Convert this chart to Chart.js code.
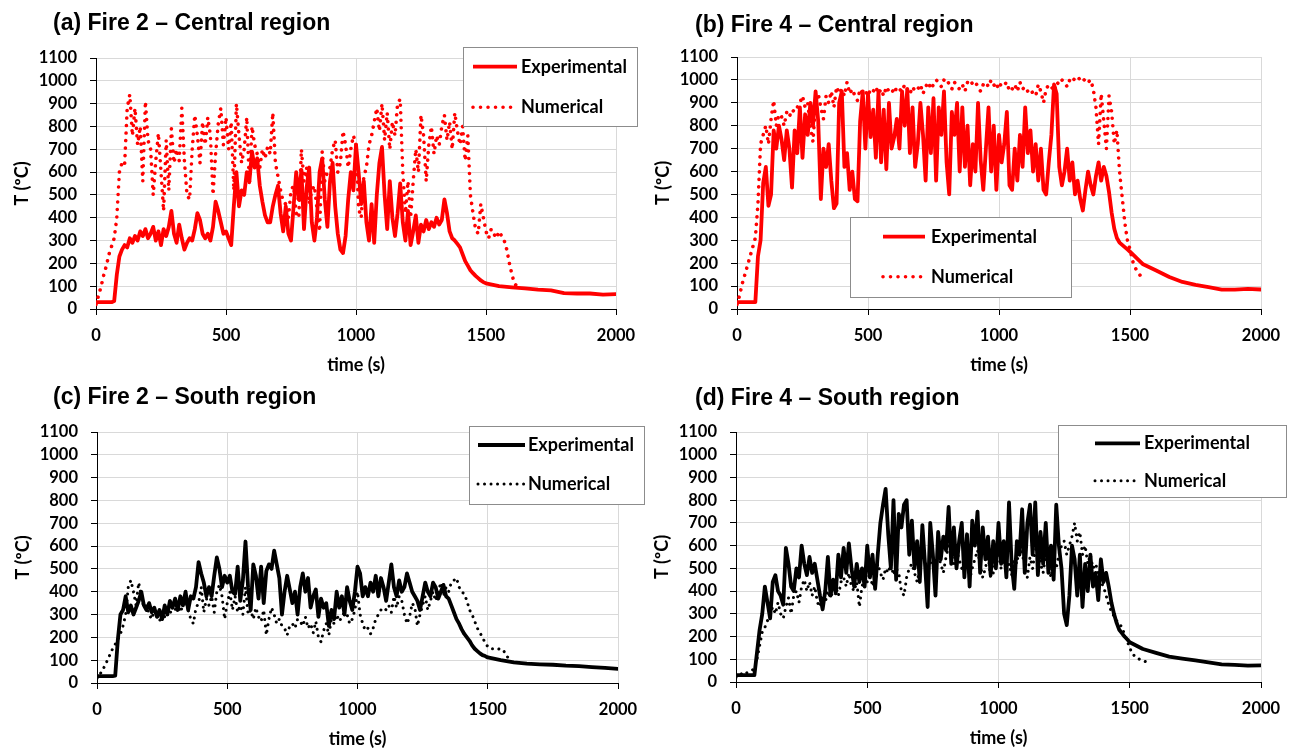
<!DOCTYPE html>
<html><head><meta charset="utf-8">
<script src="https://cdn.jsdelivr.net/npm/chart.js@4.4.1/dist/chart.umd.min.js"></script>
<style>
html,body{margin:0;padding:0;background:#fff;width:1295px;height:749px;overflow:hidden;position:relative;}
canvas{position:absolute;left:0;top:0;}
.ttl{position:absolute;font-family:"Liberation Sans",Arial,sans-serif;font-weight:bold;font-size:23px;line-height:23px;color:#000;white-space:nowrap;z-index:5;}
</style></head><body>
<canvas id="ca" width="1295" height="800"></canvas>
<canvas id="cb" width="1295" height="800"></canvas>
<canvas id="cc" width="1295" height="800"></canvas>
<canvas id="cd" width="1295" height="800"></canvas>
<div class="ttl" style="left:53px;top:11px">(a) Fire 2 – Central region</div>
<div class="ttl" style="left:695px;top:13px">(b) Fire 4 – Central region</div>
<div class="ttl" style="left:53px;top:385px">(c) Fire 2 – South region</div>
<div class="ttl" style="left:695px;top:386px">(d) Fire 4 – South region</div>
<script>
// time grid (s) for the densely sampled part, and for the tail of the experimental curves
const timeFine = [0,10,20,30,40,50,60,70,80,90,100,110,120,130,140,150,160,170,180,190,200,210,220,230,240,250,260,270,280,290,300,310,320,330,340,350,360,370,380,390,400,410,420,430,440,450,460,470,480,490,500,510,520,530,540,550,560,570,580,590,600,610,620,630,640,650,660,670,680,690,700,710,720,730,740,750,760,770,780,790,800,810,820,830,840,850,860,870,880,890,900,910,920,930,940,950,960,970,980,990,1000,1010,1020,1030,1040,1050,1060,1070,1080,1090,1100,1110,1120,1130,1140,1150,1160,1170,1180,1190,1200,1210,1220,1230,1240,1250,1260,1270,1280,1290,1300,1310,1320,1330,1340,1350,1360,1370,1380,1390,1400,1410,1420,1430,1440,1450,1460,1470,1480,1490,1500,1510,1520,1530,1540,1550,1560,1570,1580,1590,1600,1610,1620];
const timeTail = [1550,1600,1650,1700,1750,1800,1850,1900,1950,2000];
const xTicks = [0,500,1000,1500,2000];

// (a) Fire 2 – Central region
const aExp = [30,30,30,30,30,30,30,35,150,230,
260,280,270,310,290,320,300,340,320,350,
310,330,360,300,340,280,350,320,360,430,
330,290,370,310,260,290,310,300,350,420,
390,330,310,330,300,360,470,430,380,330,
340,310,280,450,600,450,520,500,600,560,
690,620,660,540,470,410,380,380,450,500,
540,420,340,450,330,300,450,600,480,610,
350,530,620,380,300,400,600,660,480,360,
560,640,450,330,260,245,320,480,600,520,
720,600,460,560,380,300,460,290,500,640,
710,500,350,560,400,320,420,550,380,300,
430,280,340,410,290,370,340,390,350,380,
360,400,370,390,480,420,340,310,300,285,
270,240,210,190,170,157,145,135,125,118,
112];
const aExpTail = [100,95,90,85,82,70,68,68,63,65];
const aNum = [20,60,100,150,190,240,275,310,400,600,
640,630,880,940,760,880,720,800,560,910,
740,700,500,650,770,600,430,740,520,790,
640,700,650,880,650,500,480,700,850,760,
640,820,720,840,760,500,680,810,880,720,
840,700,820,520,900,760,640,700,840,540,
800,720,680,620,700,660,710,680,860,640,
580,520,470,460,400,520,540,420,400,700,
560,620,460,520,540,440,340,690,560,600,
620,700,740,600,640,780,720,620,700,760,
720,440,400,580,620,720,760,820,880,780,
900,740,860,700,820,760,900,920,600,420,
560,400,560,700,600,850,760,560,720,800,
680,760,720,800,850,740,820,700,860,780,
720,800,650,760,500,420,350,330,460,400,
340,310,350,330,310,340,320,300,260,200,
150,110,100];

// (b) Fire 4 – Central region
const bExp = [30,30,30,30,30,30,30,30,230,300,
550,620,450,500,780,700,800,740,650,780,
700,530,780,680,880,660,850,760,900,800,
950,820,480,700,620,720,560,440,460,900,
950,620,680,520,600,480,470,820,950,700,
940,750,870,660,950,640,870,610,900,700,
750,830,700,950,800,960,680,880,620,720,
900,760,560,880,680,920,560,880,760,950,
640,500,860,760,900,600,880,620,800,540,
720,600,900,650,520,700,880,600,800,520,
760,640,720,860,540,520,700,560,760,620,
880,680,780,600,720,560,700,520,500,640,
760,980,940,620,540,600,700,560,640,500,
560,480,430,520,600,540,500,580,640,560,
620,580,510,420,350,310,290,280,270,260,
250];
const bExpTail = [195,168,140,118,105,95,85,85,88,85];
const bNum = [20,60,110,150,190,230,270,310,460,720,
760,800,720,830,910,800,850,840,800,860,
840,870,860,880,900,930,880,900,800,730,
900,940,880,830,930,900,950,880,970,940,
960,930,990,940,960,930,910,960,940,950,
930,960,950,970,940,960,930,970,950,960,
940,970,960,950,980,960,940,970,950,960,
980,940,970,990,960,980,1000,990,970,1000,
1005,980,960,990,970,960,980,950,990,1000,
980,990,970,950,980,990,970,1000,980,960,
990,970,980,990,950,960,980,950,990,960,
970,950,960,940,930,980,950,900,960,980,
970,950,990,980,1000,990,970,1000,990,1010,
1000,1010,995,1005,990,1000,960,880,720,940,
820,700,930,860,720,780,600,490,380,300,
260,210,180,160,145,135,130];

// (c) Fire 2 – South region
const cExp = [30,30,30,30,30,30,30,32,190,300,
320,380,310,340,300,330,360,400,340,320,
350,310,330,290,320,280,340,300,360,330,
370,320,380,340,400,320,380,370,420,530,
480,440,380,420,380,470,550,500,420,470,
440,470,400,390,510,360,450,620,420,320,
520,470,370,510,350,490,520,500,580,520,
460,300,400,470,410,350,400,300,420,480,
400,460,330,380,410,290,370,330,350,250,
320,280,400,330,380,300,420,360,320,400,
510,480,380,420,380,440,400,470,380,460,
420,360,440,520,420,380,450,400,420,480,
440,400,380,360,320,380,440,400,380,440,
420,370,400,430,380,370,340,310,280,260,
235,215,200,185,165,150,140,130,122,118,
112];
const cExpTail = [100,90,85,82,80,76,74,70,66,62];
const cNum = [20,35,55,75,100,125,150,170,190,215,
250,300,420,450,400,340,440,380,330,340,
300,280,320,300,270,310,290,330,300,340,
320,350,310,340,360,320,280,260,330,350,
420,310,370,340,380,310,400,430,380,280,
350,400,320,380,310,340,300,420,300,320,
280,330,290,270,320,210,280,330,300,260,
280,250,240,210,250,260,240,280,270,250,
290,240,260,220,270,200,180,230,260,210,
280,260,300,270,290,310,300,260,280,320,
400,300,260,230,240,215,240,280,300,320,
330,320,340,310,380,330,380,360,300,260,
290,350,330,250,300,340,380,320,360,400,
360,400,440,380,420,400,440,450,460,420,
400,390,360,320,300,270,240,220,200,175,
160,150,150,148,150,146,145,120,110];

// (d) Fire 4 – South region
const dExp = [30,30,30,30,30,30,30,30,130,230,
300,420,350,280,440,470,400,380,340,590,
520,420,400,500,460,600,520,470,550,480,
520,450,380,320,400,550,380,450,390,560,
460,590,480,610,500,420,520,440,500,420,
600,460,560,410,560,700,780,850,650,500,
800,450,740,680,780,800,560,710,500,620,
440,690,520,330,700,560,380,660,540,640,
580,770,520,680,500,620,700,460,650,420,
710,600,750,480,680,540,640,470,620,500,
700,520,620,460,790,520,410,620,560,760,
480,700,780,560,790,470,660,520,700,480,
600,450,780,600,500,300,250,380,600,540,
380,560,330,520,400,560,420,480,360,540,
440,480,420,350,300,260,230,215,200,188,
175];
const dExpTail = [145,128,112,103,95,86,78,75,72,73];
const dNum = [20,25,35,45,40,45,50,60,100,160,
220,240,270,300,330,300,350,300,280,330,
370,300,380,400,350,420,450,400,440,380,
420,350,330,380,350,400,370,400,420,380,
440,460,420,480,420,400,440,330,420,460,
440,480,420,460,520,480,450,500,480,520,
470,500,480,400,380,460,500,520,480,440,
500,560,540,480,520,550,500,560,520,480,
550,600,560,520,580,540,500,540,560,450,
500,540,580,520,460,500,560,460,480,540,
560,500,540,480,520,470,540,520,600,560,
520,460,550,500,580,600,520,480,560,520,
460,540,500,560,600,620,560,600,640,700,
620,660,560,600,520,560,500,520,480,440,
420,380,340,310,290,270,260,240,210,180,
150,125,112,105,98,94,90];

function pts(times, values) { return values.map((v, i) => ({x: times[i], y: v})); }
function expPts(main, tail) { return pts(timeFine.slice(0, main.length).concat(timeTail), main.concat(tail)); }
function numPts(vals) { return pts(timeFine, vals); }

const boxLegendPlugin = {
  id: 'boxLegend',
  afterDraw(chart, args, opts) {
    if (!opts || !opts.box) return;
    const ctx = chart.ctx;
    const [x1, y1, x2, y2] = opts.box;
    ctx.save();
    ctx.fillStyle = '#fff';
    ctx.fillRect(x1, y1, x2 - x1, y2 - y1);
    ctx.strokeStyle = '#8c8c8c';
    ctx.lineWidth = 1;
    ctx.strokeRect(x1, y1, x2 - x1, y2 - y1);
    chart.data.datasets.forEach((ds, i) => {
      const y = opts.rows[i];
      ctx.beginPath();
      ctx.moveTo(opts.lineX[0], y);
      ctx.lineTo(opts.lineX[1], y);
      ctx.strokeStyle = ds.borderColor;
      ctx.lineWidth = ds.borderWidth;
      ctx.lineCap = ds.borderDash ? 'round' : 'butt';
      ctx.setLineDash(ds.borderDash || []);
      ctx.stroke();
      ctx.setLineDash([]);
      ctx.fillStyle = '#000';
      ctx.font = 'bold 18px Lato';
      ctx.textBaseline = 'middle';
      ctx.textAlign = 'left';
      ctx.fillText(ds.label, opts.textX, y);
    });
    ctx.restore();
  }
};

function makeChart(id, g, exp, num, color, numWidth, numGap, leg) {
  const W = 90, H = 68;
  const tickFont = {family: 'Lato', weight: 'bold', size: 16.5};
  const titleFont = {family: 'Lato', weight: 'bold', size: 18};
  return new Chart(document.getElementById(id), {
    type: 'line',
    data: {datasets: [
      {label: 'Experimental', data: exp, borderColor: color, borderWidth: 3.8, pointRadius: 0, tension: 0,
       borderJoinStyle: 'round', borderCapStyle: 'round', fill: false},
      {label: 'Numerical', data: num, borderColor: color, borderWidth: numWidth, borderDash: [0.01, numGap],
       borderCapStyle: 'round', borderJoinStyle: 'round', pointRadius: 0, tension: 0, fill: false}
    ]},
    options: {
      responsive: false, animation: false, events: [],
      layout: {padding: {left: g.L - W, top: g.T, right: 1295 - g.R, bottom: 800 - g.B - H}},
      plugins: {legend: {display: false}, tooltip: {enabled: false}, boxLegend: leg},
      scales: {
        x: {
          type: 'linear', min: 0, max: 2000,
          afterBuildTicks: (s) => { s.ticks = xTicks.map(v => ({value: v})); },
          ticks: {font: tickFont, color: '#000', padding: 11, maxRotation: 0, autoSkip: false,
                  callback: (v) => String(v)},
          grid: {color: '#d9d9d9', tickColor: '#000', tickLength: 6, lineWidth: 1},
          border: {color: '#000', width: 1},
          title: {display: true, text: 'time (s)', font: titleFont, color: '#000', padding: {top: 0, bottom: 1}},
          afterFit: (s) => { s.height = H; }
        },
        y: {
          type: 'linear', min: 0, max: 1100,
          ticks: {stepSize: 100, font: tickFont, color: '#000', padding: 13, autoSkip: false,
                  callback: (v) => String(v)},
          grid: {color: '#d9d9d9', tickColor: '#000', tickLength: 6, lineWidth: 1},
          border: {color: '#000', width: 1},
          title: {display: true, text: 'T (ºC)', font: titleFont, color: '#000', padding: {top: 5, bottom: 0}},
          afterFit: (s) => { s.width = W; }
        }
      }
    },
    plugins: [boxLegendPlugin]
  });
}

makeChart('ca', {L: 96, R: 616, T: 58, B: 309}, expPts(aExp, aExpTail), numPts(aNum), '#ff0000', 3.6, 7.5,
  {box: [463.5, 47.5, 637.5, 126.5], rows: [66.7, 107.3], lineX: [473, 517], textX: 521});
makeChart('cb', {L: 737, R: 1261, T: 57, B: 309}, expPts(bExp, bExpTail), numPts(bNum), '#ff0000', 3.6, 7.5,
  {box: [850.5, 217.5, 1071.5, 297.5], rows: [236.7, 276.7], lineX: [883, 925], textX: 931});
makeChart('cc', {L: 97, R: 618, T: 432, B: 683}, expPts(cExp, cExpTail), numPts(cNum), '#000000', 3, 6.5,
  {box: [469.5, 426.5, 644.5, 504.5], rows: [445, 484], lineX: [478, 525], textX: 528});
makeChart('cd', {L: 736, R: 1261, T: 432, B: 682}, expPts(dExp, dExpTail), numPts(dNum), '#000000', 3, 6.5,
  {box: [1058.5, 425.5, 1286.5, 497.5], rows: [443.3, 480.7], lineX: [1095, 1140], textX: 1144});
</script>
</body></html>
